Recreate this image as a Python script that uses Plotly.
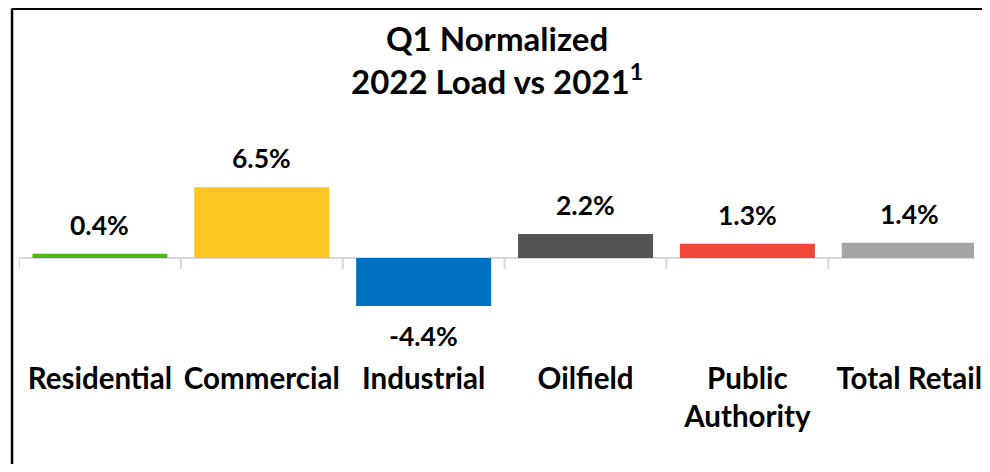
import plotly.graph_objects as go

categories = ["Residential", "Commercial", "Industrial", "Oilfield", "Public<br>Authority", "Total Retail"]
values = [0.4, 6.5, -4.4, 2.2, 1.3, 1.4]
labels = ["0.4%", "6.5%", "-4.4%", "2.2%", "1.3%", "1.4%"]
colors = ["#4CB81A", "#FDC521", "#0070C0", "#545454", "#EF4739", "#A5A5A5"]
title_lines = ["Q1 Normalized", "2022 Load vs 2021<sup>1</sup>"]

FONT = "Lato"
y_min, y_max = -9.17, 12.66

fig = go.Figure()
fig.add_trace(go.Bar(
    x=categories, y=values, marker=dict(color=colors, line=dict(width=0)),
    showlegend=False, hoverinfo="skip",
))

for c, v, t in zip(categories, values, labels):
    fig.add_annotation(
        x=c, y=v, text="<b>%s</b>" % t, showarrow=False,
        yshift=29 if v >= 0 else -30, yanchor="middle",
        font=dict(family=FONT, size=26.5, color="#000000"),
    )

# tick marks at category boundaries, hanging below the zero line
for i in range(len(categories) + 1):
    fig.add_shape(
        type="line", xref="x", yref="y", x0=i - 0.5, x1=i - 0.5,
        ysizemode="pixel", yanchor=0, y0=0, y1=-11,
        line=dict(color="#D9D9D9", width=2),
    )

# chart title
fig.add_annotation(
    xref="paper", yref="paper", x=0.5, y=1.255, xanchor="center", yanchor="middle",
    text="<b>" + "<br>".join(title_lines) + "</b>", showarrow=False,
    font=dict(family=FONT, size=33, color="#000000"),
)

# outer chart border (left and top visible)
fig.add_shape(type="line", xref="paper", yref="paper", x0=-0.0073, x1=-0.0073, y0=-1, y1=1.4685,
              line=dict(color="#000000", width=2.5))
fig.add_shape(type="line", xref="paper", yref="paper", x0=-0.0073, x1=1.2, y0=1.4685, y1=1.4685,
              line=dict(color="#000000", width=3))

fig.update_layout(
    width=974, height=456,
    margin=dict(l=11, r=0, t=112, b=106),
    paper_bgcolor="white", plot_bgcolor="white",
    bargap=0.166,
    xaxis=dict(
        range=[-0.5, 5.40], showgrid=False, showline=False, ticks="",
        tickfont=dict(family=FONT, size=29.5, color="#000000", weight="bold"),
        fixedrange=True,
    ),
    yaxis=dict(
        range=[y_min, y_max], showgrid=False, showticklabels=False, ticks="",
        zeroline=True, zerolinecolor="#D9D9D9", zerolinewidth=2, showline=False,
        fixedrange=True,
    ),
)

fig.write_html("out.html")
